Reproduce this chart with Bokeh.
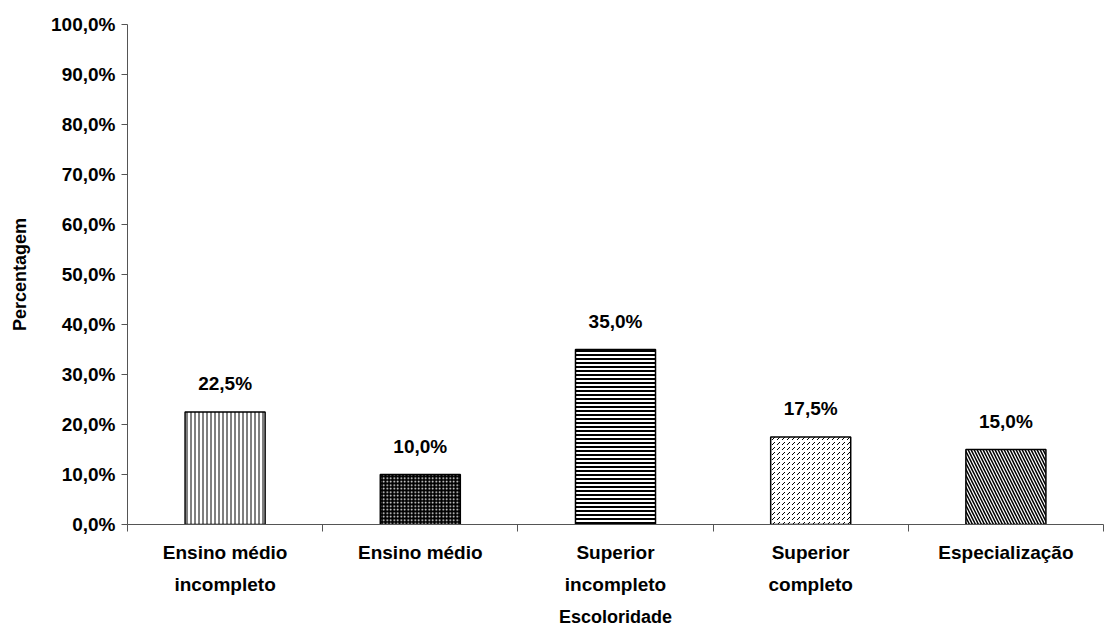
from bokeh.plotting import figure
from bokeh.models import ColumnDataSource, FixedTicker, Range1d, LabelSet
from bokeh.core.properties import value
from bokeh.embed import file_html
from bokeh.resources import INLINE

categories = ["Ensino médio\nincompleto", "Ensino médio", "Superior\nincompleto", "Superior\ncompleto", "Especialização"]
values = [22.5, 10.0, 35.0, 17.5, 15.0]
value_labels = ["22,5%", "10,0%", "35,0%", "17,5%", "15,0%"]
y_ticks = [0, 10, 20, 30, 40, 50, 60, 70, 80, 90, 100]
y_tick_labels = ["0,0%", "10,0%", "20,0%", "30,0%", "40,0%", "50,0%", "60,0%", "70,0%", "80,0%", "90,0%", "100,0%"]

fill_colors = ["white", "black", "white", "white", "white"]
hatch_colors = ["black", "white", "black", "black", "black"]
hatch_patterns = ["vertical_line", "dot", "horizontal_line", "right_diagonal_dash", "left_diagonal_line"]
hatch_scales = [4, 3.5, 4, 5, 6]
hatch_weights = [1, 0.8, 2, 1, 1.5]

n = len(categories)
xs = [i + 0.5 for i in range(n)]
src = ColumnDataSource(dict(x=xs, top=values, lab=value_labels, fill=fill_colors,
                            hc=hatch_colors, hp=hatch_patterns, hs=hatch_scales, hw=hatch_weights))

FONT = "Liberation Sans"
p = figure(width=1105, height=630, output_backend="svg", toolbar_location=None,
           x_range=Range1d(0, n), y_range=Range1d(0, 100))
p.min_border_left = 127
p.min_border_right = 2
p.min_border_top = 24
p.min_border_bottom = 106
p.outline_line_color = None
p.grid.visible = False

p.vbar(x="x", top="top", bottom=0, width=0.41, source=src, fill_color="fill",
       line_color="black", line_width=1.5, hatch_color="hc", hatch_pattern="hp",
       hatch_scale="hs", hatch_weight="hw")

labels = LabelSet(x="x", y="top", text="lab", source=src, text_align="center",
                  text_baseline="bottom", y_offset=18, text_font=value(FONT),
                  text_font_style="bold", text_font_size="19px", text_color="black")
p.add_layout(labels)

# x axis
p.xaxis.ticker = FixedTicker(ticks=xs, minor_ticks=[float(i) for i in range(n + 1)])
p.xaxis.major_label_overrides = {x: c for x, c in zip(xs, categories)}
p.xaxis.major_tick_out = 0
p.xaxis.major_tick_in = 0
p.xaxis.minor_tick_out = 7
p.xaxis.minor_tick_in = 0
p.xaxis.minor_tick_line_color = "#555555"
p.xaxis.axis_line_color = "#555555"
p.xaxis.major_label_standoff = 10
p.xaxis.major_label_text_font = FONT
p.xaxis.major_label_text_font_style = "bold"
p.xaxis.major_label_text_font_size = "19px"
p.xaxis.major_label_text_line_height = 1.55
p.xaxis.major_label_text_color = "black"
p.xaxis.axis_label = "Escoloridade"
p.xaxis.axis_label_text_font = FONT
p.xaxis.axis_label_text_font_style = "bold"
p.xaxis.axis_label_text_font_size = "18px"
p.xaxis.axis_label_text_color = "black"
p.xaxis.axis_label_standoff = 9

# y axis
p.yaxis.ticker = FixedTicker(ticks=y_ticks, minor_ticks=[])
p.yaxis.major_label_overrides = {t: l for t, l in zip(y_ticks, y_tick_labels)}
p.yaxis.major_tick_out = 6
p.yaxis.major_tick_in = 0
p.yaxis.major_tick_line_color = "#555555"
p.yaxis.axis_line_color = "#555555"
p.yaxis.major_label_standoff = 6
p.yaxis.major_label_text_font = FONT
p.yaxis.major_label_text_font_style = "bold"
p.yaxis.major_label_text_font_size = "19px"
p.yaxis.major_label_text_color = "black"
p.yaxis.axis_label = "Percentagem"
p.yaxis.axis_label_text_font = FONT
p.yaxis.axis_label_text_font_style = "bold"
p.yaxis.axis_label_text_font_size = "18px"
p.yaxis.axis_label_text_color = "black"
p.yaxis.axis_label_standoff = 18

open("out.html", "w").write(file_html(p, INLINE))
